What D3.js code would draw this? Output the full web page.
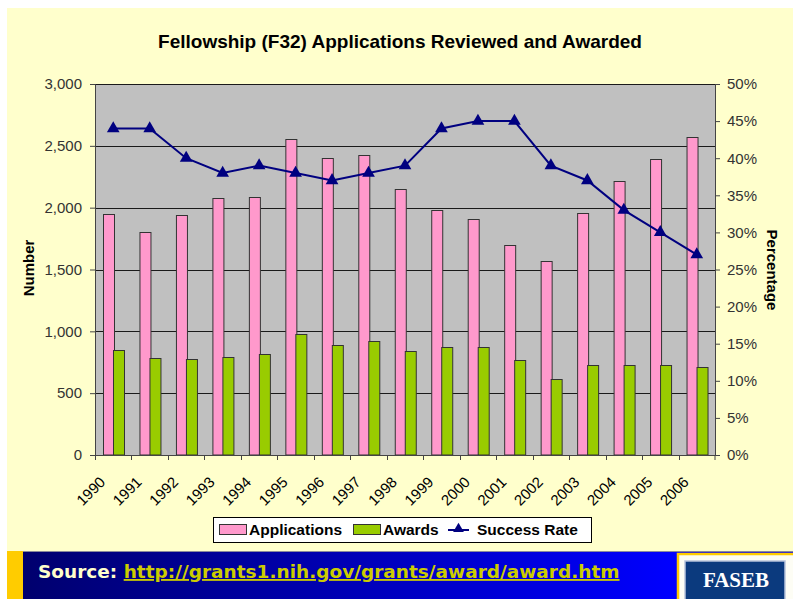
<!DOCTYPE html>
<html>
<head>
<meta charset="utf-8">
<script src="https://cdn.jsdelivr.net/npm/d3@7"></script>
<style>
  body { margin: 0; background: #fff; }
  svg { display: block; }
</style>
</head>
<body>
<div id="chart"></div>
<script>
var years = ["1990", "1991", "1992", "1993", "1994", "1995", "1996", "1997", "1998",
             "1999", "2000", "2001", "2002", "2003", "2004", "2005", "2006"];
var applications = [1950, 1800, 1940, 2080, 2090, 2555, 2400, 2425, 2150,
                    1985, 1910, 1695, 1565, 1955, 2215, 2395, 2570];
var awards = [850, 785, 780, 795, 820, 975, 890, 925, 845,
              870, 870, 770, 615, 725, 730, 725, 710];
var successRate = [44, 44, 40, 38, 39, 38, 37, 38, 39, 44, 45, 45, 39, 37, 33, 30, 27];
var leftTicks = [0, 500, 1000, 1500, 2000, 2500, 3000];
var rightTicks = [0, 5, 10, 15, 20, 25, 30, 35, 40, 45, 50];
var seriesNames = ["Applications", "Awards", "Success Rate"];

var width = 793, height = 599;
var plot = {left: 95, right: 715, top: 84, bottom: 455};
var pink = "#ff99cc", green = "#99cc00", navy = "#000080";

var svg = d3.select("#chart")
    .append("svg")
    .attr("width", width)
    .attr("height", height);

var defs = svg.append("defs");
var grad = defs.append("linearGradient")
    .attr("id", "bannerGrad")
    .attr("x1", "0%").attr("x2", "100%");
grad.append("stop").attr("offset", "0%").attr("stop-color", "#00006a");
grad.append("stop").attr("offset", "85%").attr("stop-color", "#0000ff");

// page background
svg.append("rect")
    .attr("x", 7).attr("y", 8)
    .attr("width", width - 7).attr("height", 543)
    .attr("fill", "#ffffcc");

svg.append("text")
    .attr("x", 400).attr("y", 48)
    .attr("text-anchor", "middle")
    .attr("font-family", "Liberation Sans, Arial, sans-serif")
    .attr("font-weight", "bold")
    .attr("font-size", "19px")
    .attr("fill", "#000")
    .text("Fellowship (F32) Applications Reviewed and Awarded");

var x = d3.scaleBand()
    .domain(years)
    .range([plot.left, plot.right]);

var xInner = d3.scaleBand()
    .domain(["Applications", "Awards"])
    .range([0, x.bandwidth()])
    .paddingOuter(0.7);

var y = d3.scaleLinear()
    .domain([0, 3000])
    .range([plot.bottom, plot.top]);

var y2 = d3.scaleLinear()
    .domain([0, 50])
    .range([plot.bottom, plot.top]);

svg.append("rect")
    .attr("x", plot.left).attr("y", plot.top)
    .attr("width", plot.right - plot.left)
    .attr("height", plot.bottom - plot.top)
    .attr("fill", "#c0c0c0");

// gridlines
svg.append("g")
    .selectAll("line")
    .data(leftTicks.filter(function(d) { return d > 0; }))
    .enter()
    .append("line")
    .attr("x1", plot.left).attr("x2", plot.right)
    .attr("y1", function(d) { return Math.round(y(d)) + 0.5; })
    .attr("y2", function(d) { return Math.round(y(d)) + 0.5; })
    .attr("stroke", "#1a1a1a")
    .attr("stroke-width", 1);

var rows = years.map(function(yr, i) {
    return {year: yr, Applications: applications[i], Awards: awards[i], rate: successRate[i]};
});

var bars = svg.append("g")
    .selectAll("g")
    .data(rows)
    .enter()
    .append("g")
    .attr("transform", function(d) { return "translate(" + x(d.year) + ",0)"; });

bars.selectAll("rect")
    .data(function(d) {
        return ["Applications", "Awards"].map(function(k) { return {key: k, value: d[k]}; });
    })
    .enter()
    .append("rect")
    .attr("x", function(d) { return Math.round(xInner(d.key)) + 0.5; })
    .attr("y", function(d) { return Math.round(y(d.value)) + 0.5; })
    .attr("width", Math.round(xInner.bandwidth()))
    .attr("height", function(d) { return plot.bottom - Math.round(y(d.value)) - 0.5; })
    .attr("fill", function(d) { return d.key == "Applications" ? pink : green; })
    .attr("stroke", "#333")
    .attr("stroke-width", 1);

// axes
var leftAxis = svg.append("g")
    .attr("transform", "translate(" + plot.left + ",0)")
    .call(d3.axisLeft(y).tickValues(leftTicks).tickFormat(d3.format(",")).tickSize(5).tickPadding(8));

var rightAxis = svg.append("g")
    .attr("transform", "translate(" + plot.right + ",0)")
    .call(d3.axisRight(y2).tickValues(rightTicks).tickFormat(function(d) { return d + "%"; }).tickSize(5).tickPadding(7));

[leftAxis, rightAxis].forEach(function(ax) {
    ax.selectAll("path,line").attr("stroke", "#444");
    ax.selectAll("text")
        .attr("font-family", "Liberation Sans, Arial, sans-serif")
        .attr("font-size", "15px")
        .attr("fill", "#333");
});

var bottomAxis = svg.append("g")
    .attr("transform", "translate(0," + plot.bottom + ")")
    .call(d3.axisBottom(x).tickSize(0).tickFormat(""));
bottomAxis.select("path").attr("stroke", "#444");

bottomAxis.selectAll(".bound")
    .data(years.concat(["end"]))
    .enter()
    .append("line")
    .attr("class", "bound")
    .attr("x1", function(d) { return d == "end" ? plot.right : Math.round(x(d)) + 0.5; })
    .attr("x2", function(d) { return d == "end" ? plot.right : Math.round(x(d)) + 0.5; })
    .attr("y1", 0).attr("y2", 5)
    .attr("stroke", "#444");

svg.append("g")
    .selectAll("text")
    .data(years)
    .enter()
    .append("text")
    .attr("transform", function(d) {
        return "translate(" + (x(d) + x.bandwidth() / 2 - 7) + "," + (plot.bottom + 28) + ") rotate(-45)";
    })
    .attr("text-anchor", "end")
    .attr("font-family", "Liberation Sans, Arial, sans-serif")
    .attr("font-size", "15px")
    .attr("fill", "#000")
    .text(function(d) { return d; });

// axis titles
svg.append("text")
    .attr("transform", "translate(34,268) rotate(-90)")
    .attr("text-anchor", "middle")
    .attr("font-family", "Liberation Sans, Arial, sans-serif")
    .attr("font-weight", "bold")
    .attr("font-size", "15px")
    .text("Number");

svg.append("text")
    .attr("transform", "translate(767,270) rotate(90)")
    .attr("text-anchor", "middle")
    .attr("font-family", "Liberation Sans, Arial, sans-serif")
    .attr("font-weight", "bold")
    .attr("font-size", "15px")
    .text("Percentage");

// success rate line
var line = d3.line()
    .x(function(d) { return x(d.year) + x.bandwidth() / 2; })
    .y(function(d) { return y2(d.rate); });

svg.append("path")
    .datum(rows)
    .attr("d", line)
    .attr("fill", "none")
    .attr("stroke", navy)
    .attr("stroke-width", 2);

svg.append("g")
    .selectAll("path")
    .data(rows)
    .enter()
    .append("path")
    .attr("d", d3.symbol(d3.symbolTriangle).size(70))
    .attr("transform", function(d) {
        return "translate(" + (x(d.year) + x.bandwidth() / 2) + "," + y2(d.rate) + ")";
    })
    .attr("fill", navy);

// legend
var legend = svg.append("g");
legend.append("rect")
    .attr("x", 213.5).attr("y", 517.5)
    .attr("width", 378).attr("height", 25)
    .attr("fill", "#fff")
    .attr("stroke", "#000");

var legendPos = [219, 353, 448];
var legendText = [249, 383, 477];

seriesNames.forEach(function(name, i) {
    if (i < 2) {
        legend.append("rect")
            .attr("x", legendPos[i] + 0.5).attr("y", 524.5)
            .attr("width", 27).attr("height", 10)
            .attr("fill", i == 0 ? pink : green)
            .attr("stroke", "#333");
    } else {
        legend.append("line")
            .attr("x1", legendPos[i]).attr("x2", legendPos[i] + 21)
            .attr("y1", 530).attr("y2", 530)
            .attr("stroke", navy).attr("stroke-width", 2);
        legend.append("path")
            .attr("d", d3.symbol(d3.symbolTriangle).size(50))
            .attr("transform", "translate(" + (legendPos[i] + 10.5) + ",529)")
            .attr("fill", navy);
    }
    legend.append("text")
        .attr("x", legendText[i]).attr("y", 535)
        .attr("font-family", "Liberation Sans, Arial, sans-serif")
        .attr("font-weight", "bold")
        .attr("font-size", "15.5px")
        .attr("fill", "#000")
        .text(name);
});

// source banner
svg.append("rect")
    .attr("x", 7).attr("y", 551)
    .attr("width", width - 7).attr("height", height - 551)
    .attr("fill", "url(#bannerGrad)");
svg.append("line")
    .attr("x1", 7).attr("x2", width)
    .attr("y1", 551.5).attr("y2", 551.5)
    .attr("stroke", "#8a8a9a");
svg.append("rect")
    .attr("x", 7).attr("y", 551)
    .attr("width", 16).attr("height", height - 551)
    .attr("fill", "#ffcc00");

var source = svg.append("text")
    .attr("x", 38).attr("y", 578)
    .attr("font-family", "DejaVu Sans, Verdana, sans-serif")
    .attr("font-weight", "bold")
    .attr("font-size", "18.5px");
source.append("tspan")
    .attr("fill", "#ffffcc")
    .text("Source: ");
source.append("tspan")
    .attr("fill", "#cccc00")
    .attr("text-decoration", "underline")
    .text("http://grants1.nih.gov/grants/award/award.htm");

svg.append("rect")
    .attr("x", 678).attr("y", 554)
    .attr("width", 120).attr("height", 50)
    .attr("fill", "#fdfdf5")
    .attr("stroke", "#ffcc00")
    .attr("stroke-width", 2.5);
svg.append("rect")
    .attr("x", 685).attr("y", 561)
    .attr("width", 100).attr("height", 42)
    .attr("fill", "#0b3a7e")
    .attr("stroke", "#b8c4dc")
    .attr("stroke-width", 1.5);
svg.append("text")
    .attr("x", 736).attr("y", 587)
    .attr("text-anchor", "middle")
    .attr("font-family", "Liberation Serif, Times New Roman, serif")
    .attr("font-weight", "bold")
    .attr("font-size", "21px")
    .attr("fill", "#fff")
    .text("FASEB");
</script>
</body>
</html>
